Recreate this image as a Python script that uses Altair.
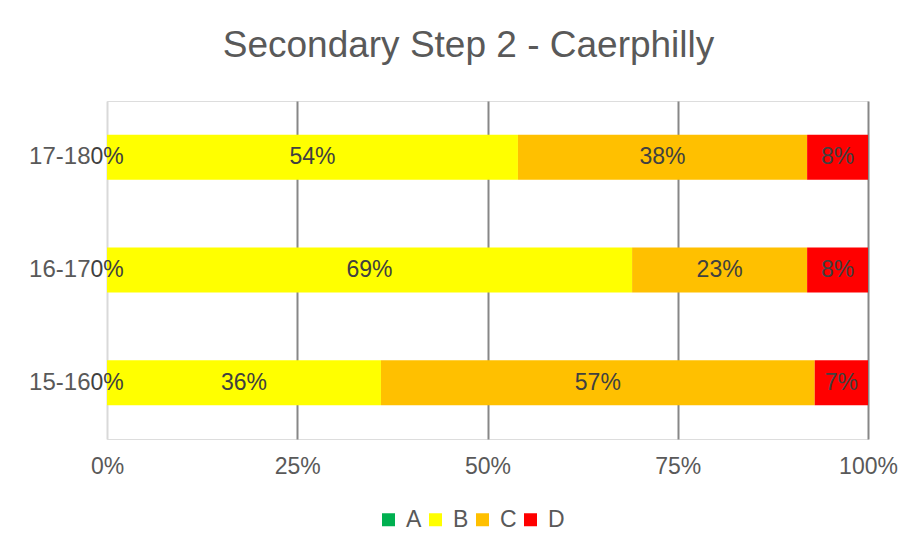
import altair as alt
import pandas as pd

years = ["17-18", "16-17", "15-16"]
grades = ["A", "B", "C", "D"]
a_vals = [0, 0, 0]
b_vals = [54, 69, 36]
c_vals = [38, 23, 57]
d_vals = [8, 8, 7]
colors = ["#00B050", "#FFFF00", "#FFC000", "#FF0000"]
x_ticks = [0, 0.25, 0.5, 0.75, 1]

rows = []
for i, yr in enumerate(years):
    for gi, (g, vals) in enumerate(zip(grades, [a_vals, b_vals, c_vals, d_vals])):
        rows.append({"year": yr, "grade": g, "order": gi, "value": vals[i] / 100})
df = pd.DataFrame(rows)

FONT = "Liberation Sans"

base = alt.Chart(df).transform_stack(
    stack="value", as_=["x0", "x1"], groupby=["year"], sort=[alt.SortField("order")]
).transform_calculate(mid="(datum.x0 + datum.x1) / 2")

y_enc = alt.Y(
    "year:N", sort=years,
    scale=alt.Scale(paddingInner=0.6, paddingOuter=0.3),
    axis=alt.Axis(title=None, domain=False, ticks=False, labelFontSize=24,
                  labelColor="#595959", labelPadding=17, labelFont=FONT),
)

bars = base.mark_bar().encode(
    y=y_enc,
    x=alt.X("x0:Q", scale=alt.Scale(domain=[0, 1], nice=False),
            axis=alt.Axis(title=None, values=x_ticks, format=".0%", domain=False, ticks=False,
                          grid=True, labelFlush=False,
                          gridColor={"condition": {"test": "datum.value === 0", "value": "#d9d9d9"},
                                     "value": "#878787"},
                          gridWidth=2, labelFontSize=23, labelColor="#595959",
                          labelPadding=16, labelFont=FONT)),
    x2="x1:Q",
    color=alt.Color("grade:N", scale=alt.Scale(domain=grades, range=colors),
                    legend=alt.Legend(title=None, orient="none", legendX=270, legendY=407,
                                      direction="horizontal", symbolType="square",
                                      symbolSize=169, symbolStrokeWidth=0,
                                      labelFontSize=23, labelColor="#595959", labelFont=FONT,
                                      labelOffset=6, columnPadding=2)),
    order=alt.Order("order:Q"),
)

labels = base.mark_text(fontSize=23, color="#404040", font=FONT).encode(
    y=alt.Y("year:N", sort=years),
    x=alt.X("mid:Q"),
    text=alt.Text("value:Q", format=".0%"),
)

chart = alt.layer(bars, labels).properties(
    width=761, height=338,
    autosize=alt.AutoSizeParams(type="none"),
    padding={"left": 99, "top": 93, "right": 39, "bottom": 106},
    title=alt.Title("Secondary Step 2 - Caerphilly", fontSize=37, color="#595959",
                    font=FONT, fontWeight="normal", anchor="middle", dx=-19, offset=36),
).configure_view(stroke=None).configure(font=FONT, background="white")

chart.save("out.html", embed_options={"renderer": "svg", "actions": False})
